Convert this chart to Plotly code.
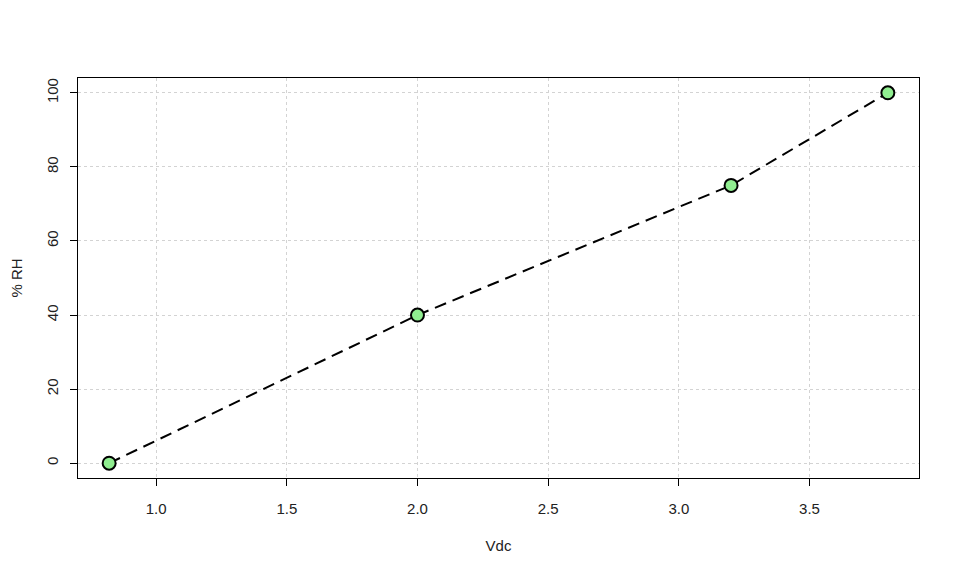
import plotly.graph_objects as go

vdc = [0.82, 2.0, 3.2, 3.8]
rh = [0, 40, 75, 100]
x_ticks = [1.0, 1.5, 2.0, 2.5, 3.0, 3.5]
x_tick_labels = ["1.0", "1.5", "2.0", "2.5", "3.0", "3.5"]
y_ticks = [0, 20, 40, 60, 80, 100]
y_tick_labels = ["0", "20", "40", "60", "80", "100"]

FONT = "Liberation Sans, Arial"

fig = go.Figure()
fig.add_trace(go.Scatter(
    x=vdc, y=rh, mode="lines+markers",
    line=dict(color="black", width=2, dash="12px,7px"),
    marker=dict(symbol="circle", size=13, color="#90EE90",
                line=dict(color="black", width=2)),
    showlegend=False,
))

xr = (min(vdc) - 0.04 * (max(vdc) - min(vdc)), max(vdc) + 0.04 * (max(vdc) - min(vdc)))
yr = (min(rh) - 0.04 * (max(rh) - min(rh)), max(rh) + 0.04 * (max(rh) - min(rh)))

axis_common = dict(
    showline=True, mirror=True, linecolor="black", linewidth=1,
    ticks="outside", ticklen=7, tickwidth=1, tickcolor="black",
    showgrid=True, gridcolor="#d3d3d3", griddash="dot", gridwidth=1,
    zeroline=False, automargin=False,
    tickfont=dict(family=FONT, size=15, color="#222"),
)

fig.update_layout(
    width=960, height=576,
    margin=dict(l=70, r=49, t=70, b=106),
    plot_bgcolor="white", paper_bgcolor="white",
    xaxis=dict(range=list(xr), tickvals=x_ticks, ticktext=x_tick_labels,
               ticklabelstandoff=10,
               title=dict(text="Vdc", standoff=24,
                          font=dict(family=FONT, size=15, color="#222")),
               **axis_common),
    yaxis=dict(range=list(yr), tickvals=y_ticks, ticktext=y_tick_labels,
               tickangle=-90, ticklabelstandoff=6,
               title=dict(text="% RH", standoff=25,
                          font=dict(family=FONT, size=15, color="#222")),
               **axis_common),
)

fig.write_html("out.html")
